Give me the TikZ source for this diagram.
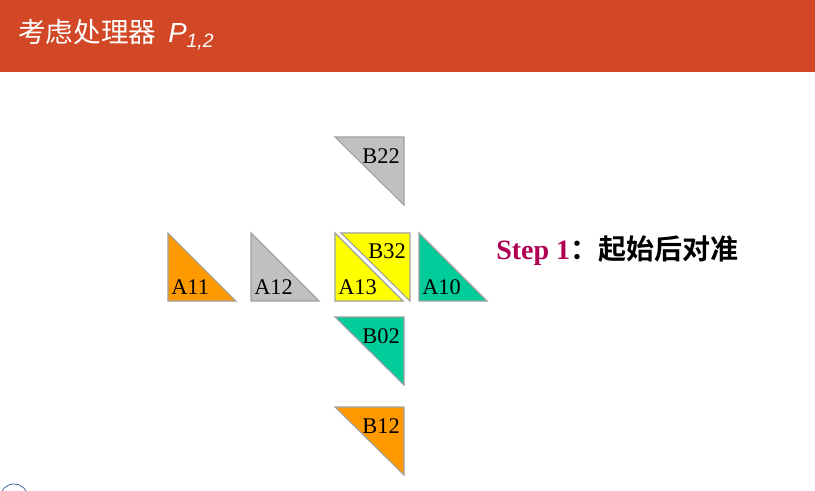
\documentclass[tikz,border=0pt]{standalone}
\usepackage{fontspec}
\setmainfont{Liberation Serif}
\newfontfamily\cjkfont{Noto Sans CJK SC}
\newfontfamily\cjkbold{Noto Sans CJK SC}[BoldFont={* Bold}]
\newfontfamily\titlesans{Liberation Sans}
\definecolor{hdr}{RGB}{210,72,38}
\definecolor{tgray}{RGB}{192,192,192}
\definecolor{torange}{RGB}{255,153,0}
\definecolor{tgreen}{RGB}{0,204,153}
\definecolor{tyellow}{RGB}{255,255,0}
\definecolor{tedge}{RGB}{160,160,160}
\definecolor{steppink}{RGB}{176,0,84}
\definecolor{logoblue}{RGB}{40,80,150}
\begin{document}
\begin{tikzpicture}[x=0.75pt,y=-0.75pt,
  tri/.style={draw=tedge,line width=0.8pt,line join=miter},
  lbl/.style={inner sep=0pt,font=\fontsize{16.8}{18}\selectfont}]
\useasboundingbox (0,0) rectangle (815,490);
\fill[white] (0,0) rectangle (815,490);
% header
\fill[hdr] (0,0) rectangle (815,72);
\node[anchor=base west,inner sep=0pt,text=white] (title) at (18,42)
  {\cjkfont\fontsize{20.7}{22}\selectfont 考虑处理器\hspace{9pt}\titlesans\itshape P\raisebox{-0.4ex}{\fontsize{14.5}{15}\selectfont 1,2}};
% row of A triangles (lower-left)
\draw[tri,fill=torange] (168,233) -- (168,301) -- (236,301) -- cycle;
\draw[tri,fill=tgray]   (251,233) -- (251,301) -- (319,301) -- cycle;
\draw[tri,fill=tyellow] (335,233) -- (335,301) -- (403,301) -- cycle;
\draw[tri,fill=tyellow] (341,233) -- (410,233) -- (410,301) -- cycle;
\draw[tri,fill=tgreen]  (419,233) -- (419,301) -- (487,301) -- cycle;
% column of B triangles (upper-right)
\draw[tri,fill=tgray]   (335,137) -- (404,137) -- (404,205) -- cycle;
\draw[tri,fill=tgreen]  (335,317) -- (404,317) -- (404,385) -- cycle;
\draw[tri,fill=torange] (335,407) -- (404,407) -- (404,475) -- cycle;
% labels
\node[lbl,anchor=base west] (a11) at (171,294) {A11};
\node[lbl,anchor=base west] (a12) at (254,294) {A12};
\node[lbl,anchor=base west] (a13) at (338,294) {A13};
\node[lbl,anchor=base west] (a10) at (422,294) {A10};
\node[lbl,anchor=base east] (b32) at (406,258) {B32};
\node[lbl,anchor=base east] (b22) at (400,163) {B22};
\node[lbl,anchor=base east] (b02) at (400,343) {B02};
\node[lbl,anchor=base east] (b12) at (400,433) {B12};
% step text
\node[anchor=base west,inner sep=0pt] (step) at (496,259)
  {\fontsize{21}{24}\selectfont\textcolor{steppink}{\bfseries Step 1}{\cjkbold\bfseries ：起始后对准}};
% partial logo at bottom-left
\begin{scope}
\clip (0,0) rectangle (815,490);
\draw[logoblue,line width=0.5pt] (14,498) circle (14);
\end{scope}
\end{tikzpicture}
\end{document}
